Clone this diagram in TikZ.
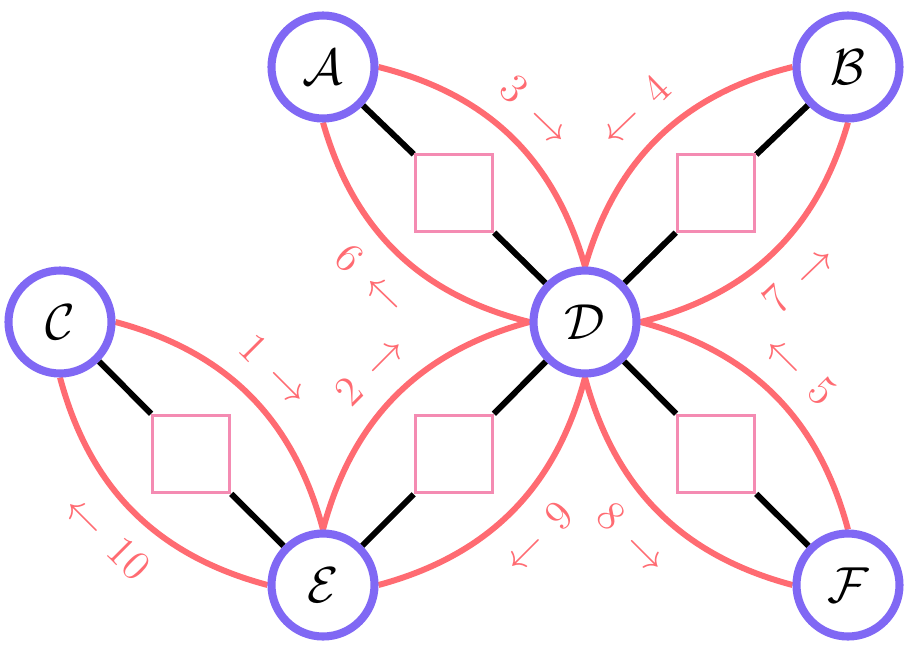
\documentclass[tikz,border=0pt]{standalone}
\usepackage{amsmath,amssymb}
\usetikzlibrary{backgrounds}
\definecolor{ringblue}{HTML}{8068F4}
\definecolor{arcred}{HTML}{FF6B72}
\definecolor{boxpink}{HTML}{F48BB2}

\begin{document}
\begin{tikzpicture}[
  vert/.style={circle,draw=ringblue,line width=2.3pt,fill=white,minimum size=1.03cm,inner sep=0pt,font=\Large},
  gadget/.style={rectangle,draw=boxpink,line width=1pt,minimum size=0.77cm,inner sep=0pt},
  wire/.style={line width=1.7pt,black},
  flow/.style={line width=1.7pt,arcred},
  lab/.style={midway,sloped,text=arcred,font=\fontsize{13}{15}\selectfont}]
  \useasboundingbox (0,0) rectangle (9.17,-6.52);
  % Vertices
  \node[vert] (A) at (3.23,-0.67) {$\mathcal{A}$};
  \node[vert] (B) at (8.48,-0.67) {$\mathcal{B}$};
  \node[vert] (C) at (0.60,-3.22) {$\mathcal{C}$};
  \node[vert] (D) at (5.85,-3.22) {$\mathcal{D}$};
  \node[vert] (E) at (3.23,-5.85) {$\mathcal{E}$};
  \node[vert] (F) at (8.48,-5.85) {$\mathcal{F}$};
  % Gadgets between pairs
  \node[gadget] (AD) at (4.54,-1.93) {};
  \node[gadget] (BD) at (7.16,-1.93) {};
  \node[gadget] (CE) at (1.91,-4.54) {};
  \node[gadget] (DE) at (4.54,-4.54) {};
  \node[gadget] (DF) at (7.16,-4.54) {};
  \begin{scope}[on background layer]
    % Wires through the gadgets
    \draw[wire] (A) -- (AD) -- (D);
    \draw[wire] (B) -- (BD) -- (D);
    \draw[wire] (C) -- (CE) -- (E);
    \draw[wire] (E) -- (DE) -- (D);
    \draw[wire] (D) -- (DF) -- (F);
    % Numbered arcs
    \draw[flow] (A.east) to[bend left] node[lab,above=0.08cm]{$3\,\rightarrow$} (D.north);
    \draw[flow] (A.south) to[bend right] node[lab,below=0.08cm]{$6\,\leftarrow$} (D.west);
    \draw[flow] (D.north) to[bend left] node[lab,above=0.08cm]{$\leftarrow\,4$} (B.west);
    \draw[flow] (D.east) to[bend right] node[lab,below=0.08cm]{$7\,\rightarrow$} (B.south);
    \draw[flow] (C.east) to[bend left] node[lab,above=0.08cm]{$1\,\rightarrow$} (E.north);
    \draw[flow] (C.south) to[bend right] node[lab,below=0.08cm]{$\leftarrow\,10$} (E.west);
    \draw[flow] (E.north) to[bend left] node[lab,above=0.08cm]{$2\,\rightarrow$} (D.west);
    \draw[flow] (E.east) to[bend right] node[lab,below=0.08cm]{$\leftarrow\,9$} (D.south);
    \draw[flow] (D.east) to[bend left] node[lab,above=0.08cm]{$\leftarrow\,5$} (F.north);
    \draw[flow] (D.south) to[bend right] node[lab,below=0.08cm]{$8\,\rightarrow$} (F.west);
  \end{scope}
\end{tikzpicture}
\end{document}
